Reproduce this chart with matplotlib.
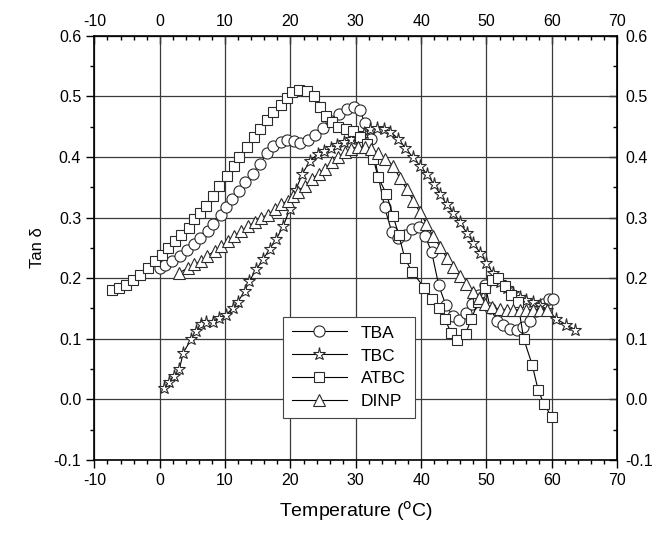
import numpy as np
import matplotlib
matplotlib.use("Agg")
import matplotlib.pyplot as plt
from matplotlib.ticker import MultipleLocator, FixedLocator

plt.rcParams['font.family'] = ['Liberation Sans', 'DejaVu Sans']
plt.rcParams['axes.unicode_minus'] = False

# TBA (circles)
tba_x = [0.0, 0.8, 1.9, 3.1, 4.1, 5.2, 6.2, 7.4, 8.2, 9.3, 10.2, 11.1, 12.1, 13.1,
         14.2, 15.3, 16.4, 17.4, 18.5, 19.5, 20.5, 21.5, 22.7, 23.8, 25.0, 26.2,
         27.5, 28.7, 29.8, 30.6, 31.4, 32.3, 34.4, 35.5, 36.5, 37.5, 38.6, 39.7,
         40.6, 41.6, 42.7, 43.8, 44.9, 45.8, 46.8, 47.8, 48.8, 49.8, 50.6, 51.6,
         52.6, 53.6, 54.6, 55.6, 56.6, 57.6, 58.7, 59.6, 60.2]
tba_y = [0.217, 0.222, 0.228, 0.237, 0.247, 0.256, 0.267, 0.278, 0.290, 0.304,
         0.317, 0.331, 0.344, 0.358, 0.372, 0.389, 0.406, 0.418, 0.425, 0.428,
         0.426, 0.424, 0.428, 0.437, 0.448, 0.459, 0.471, 0.480, 0.482, 0.478,
         0.456, 0.430, 0.317, 0.277, 0.266, 0.272, 0.282, 0.284, 0.269, 0.244,
         0.188, 0.155, 0.137, 0.131, 0.142, 0.158, 0.172, 0.188, 0.150, 0.130,
         0.122, 0.116, 0.115, 0.120, 0.130, 0.145, 0.158, 0.165, 0.165]

# TBC (stars)
tbc_x = [0.7, 1.4, 2.2, 3.0, 3.6, 4.8, 5.5, 6.3, 7.1, 8.1, 9.1, 10.2, 11.2, 11.9,
         13.0, 13.7, 14.8, 15.8, 16.8, 17.8, 18.9, 19.9, 20.8, 21.8, 23.0, 24.2,
         25.2, 26.2, 27.2, 28.2, 29.2, 30.2, 31.2, 32.2, 33.2, 34.3, 35.3, 36.5,
         37.6, 38.7, 39.8, 40.9, 41.9, 42.9, 43.9, 44.9, 45.9, 47.0, 48.0, 49.0,
         50.0, 51.0, 52.1, 53.1, 54.1, 55.1, 56.1, 57.1, 58.2, 59.3, 60.7, 62.2,
         63.6]
tbc_y = [0.019, 0.029, 0.039, 0.050, 0.077, 0.099, 0.113, 0.124, 0.127, 0.128,
         0.135, 0.140, 0.151, 0.160, 0.179, 0.195, 0.215, 0.231, 0.248, 0.264,
         0.286, 0.314, 0.345, 0.372, 0.394, 0.405, 0.410, 0.415, 0.420, 0.425,
         0.430, 0.435, 0.440, 0.446, 0.448, 0.446, 0.442, 0.430, 0.415, 0.400,
         0.386, 0.372, 0.356, 0.339, 0.322, 0.308, 0.292, 0.275, 0.258, 0.242,
         0.225, 0.208, 0.194, 0.183, 0.175, 0.169, 0.164, 0.161, 0.156, 0.148,
         0.133, 0.123, 0.115]

# ATBC (squares)
atbc_x = [-7.3, -6.3, -5.1, -4.1, -3.0, -1.8, -0.8, 0.3, 1.3, 2.3, 3.3, 4.4, 5.2,
          6.2, 7.1, 8.1, 9.1, 10.3, 11.3, 12.2, 13.3, 14.4, 15.4, 16.4, 17.4,
          18.5, 19.4, 20.3, 21.3, 22.6, 23.6, 24.5, 25.5, 26.4, 27.3, 28.5, 29.5,
          30.7, 31.7, 32.7, 33.4, 34.7, 35.7, 36.6, 37.5, 38.6, 40.5, 41.6, 42.7,
          43.6, 44.6, 45.5, 46.8, 47.7, 48.7, 49.8, 50.8, 51.8, 52.8, 53.8, 54.8,
          55.7, 57.0, 57.9, 58.8, 60.0]
atbc_y = [0.181, 0.183, 0.189, 0.197, 0.206, 0.217, 0.228, 0.239, 0.250, 0.261,
          0.272, 0.283, 0.297, 0.308, 0.319, 0.336, 0.353, 0.369, 0.386, 0.400,
          0.417, 0.433, 0.447, 0.461, 0.475, 0.486, 0.498, 0.508, 0.511, 0.509,
          0.500, 0.483, 0.467, 0.458, 0.450, 0.447, 0.443, 0.433, 0.422, 0.397,
          0.367, 0.339, 0.303, 0.271, 0.233, 0.211, 0.184, 0.165, 0.151, 0.133,
          0.110, 0.098, 0.108, 0.133, 0.160, 0.183, 0.197, 0.200, 0.187, 0.172,
          0.160, 0.100, 0.057, 0.016, -0.008, -0.029]

# DINP (triangles)
dinp_x = [3.0, 4.3, 5.3, 6.3, 7.3, 8.4, 9.4, 10.4, 11.4, 12.5, 13.5, 14.5, 15.5,
          16.6, 17.6, 18.6, 19.6, 20.4, 21.2, 22.3, 23.3, 24.3, 25.3, 26.3, 27.3,
          28.3, 29.3, 30.4, 31.4, 32.4, 33.4, 34.5, 35.7, 36.7, 37.8, 38.8, 39.8,
          40.8, 41.8, 42.9, 43.9, 44.9, 45.9, 46.9, 47.9, 48.9, 49.8, 50.8, 52.0,
          53.1, 54.1, 55.1, 56.1, 57.1, 58.2, 59.2]
dinp_y = [0.209, 0.217, 0.223, 0.228, 0.237, 0.245, 0.253, 0.261, 0.270, 0.278,
          0.286, 0.292, 0.300, 0.305, 0.314, 0.322, 0.328, 0.336, 0.342, 0.353,
          0.364, 0.372, 0.381, 0.392, 0.400, 0.408, 0.414, 0.417, 0.417, 0.414,
          0.406, 0.397, 0.386, 0.366, 0.347, 0.328, 0.309, 0.290, 0.270, 0.252,
          0.234, 0.218, 0.203, 0.190, 0.177, 0.167, 0.158, 0.152, 0.149, 0.148,
          0.148, 0.148, 0.148, 0.148, 0.148, 0.148]

xticks = np.arange(-10, 71, 10)
yticks = np.round(np.arange(-0.1, 0.61, 0.1), 2)

fig = plt.figure(figsize=(6.65, 5.36), dpi=100)
ax = fig.add_axes([0.142, 0.142, 0.786, 0.791])

style = dict(color='black', lw=0.8, mfc='white', mec='#2a2a2a', mew=0.8)
ax.plot(tba_x, tba_y, marker='o', ms=8, label='TBA', **style)
ax.plot(tbc_x, tbc_y, marker='*', ms=9.5, label='TBC', **style)
ax.plot(atbc_x, atbc_y, marker='s', ms=7.5, label='ATBC', **style)
ax.plot(dinp_x, dinp_y, marker='^', ms=8.5, label='DINP', **style)

ax.set_xlim(-10, 70)
ax.set_ylim(-0.1, 0.6)
ax.xaxis.set_major_locator(FixedLocator(xticks))
ax.xaxis.set_minor_locator(MultipleLocator(2))
ax.yaxis.set_major_locator(FixedLocator(yticks))
ax.yaxis.set_minor_locator(MultipleLocator(0.05))
ax.grid(True, which='major', color='#3a3a3a', lw=0.9)
ax.set_axisbelow(True)

ax.tick_params(which='both', direction='out', labelsize=11.5, width=1)
ax.tick_params(which='major', length=6)
ax.tick_params(which='minor', length=3)
for s in ax.spines.values():
    s.set_linewidth(1.2)

ax.set_xlabel('Temperature ($^{\\rm o}$C)', fontsize=14, labelpad=8)
ax.set_ylabel('Tan δ', fontsize=12, labelpad=6)

# mirrored axes
axt = ax.secondary_xaxis('top')
axt.xaxis.set_major_locator(FixedLocator(xticks))
axt.xaxis.set_minor_locator(MultipleLocator(2))
axt.tick_params(which='both', direction='in', labelsize=11.5, width=1, pad=5)
axt.tick_params(which='major', length=6)
axt.tick_params(which='minor', length=3)
axr = ax.secondary_yaxis('right')
axr.yaxis.set_major_locator(FixedLocator(yticks))
axr.yaxis.set_minor_locator(MultipleLocator(0.05))
axr.tick_params(which='both', direction='in', labelsize=11.5, width=1, pad=6)
axr.tick_params(which='major', length=6)
axr.tick_params(which='minor', length=3)

leg = ax.legend(loc='lower left', bbox_to_anchor=(0.344, 0.078), fontsize=12.5,
                frameon=True, fancybox=False, edgecolor='#444444',
                handlelength=3.2, borderpad=0.5, labelspacing=0.45)
leg.get_frame().set_linewidth(0.8)
leg.get_frame().set_alpha(1)

fig.savefig('out.png', dpi=100)
